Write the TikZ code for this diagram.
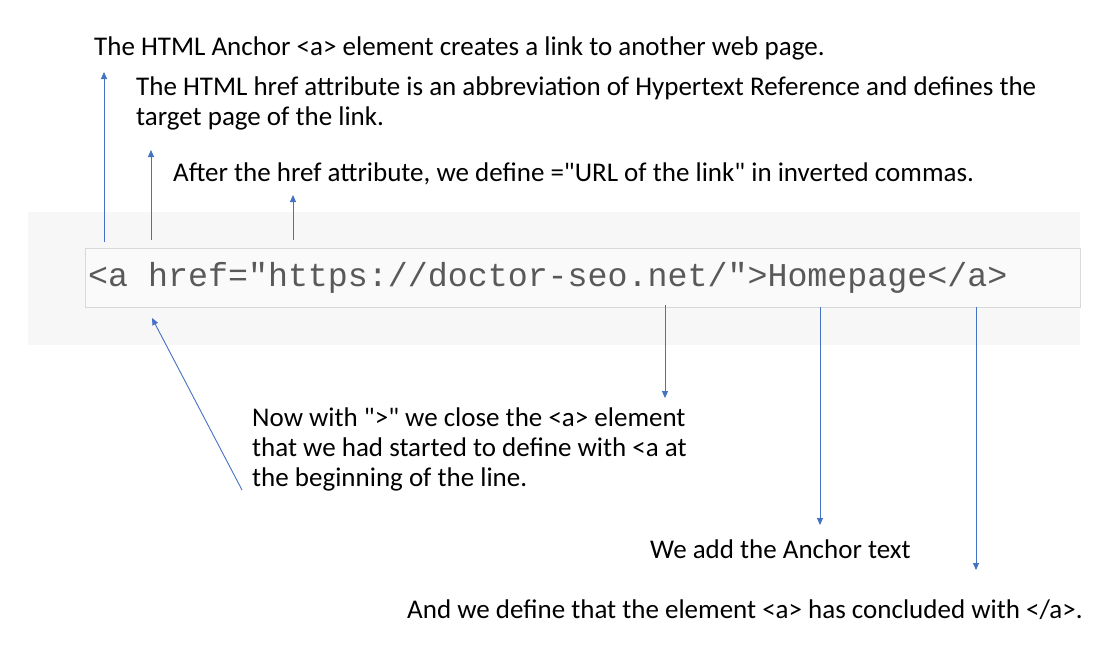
\documentclass[tikz,border=0pt]{standalone}
\usepackage{fontspec}
\setmainfont{Carlito}
\newfontfamily\codefont{Liberation Mono}
\usetikzlibrary{arrows.meta}
\definecolor{arr}{HTML}{4472C4}
\newcommand{\dq}{\XeTeXglyph\XeTeXcharglyph"22\relax}
\begin{document}
\begin{tikzpicture}[x=1pt,y=-1pt,
  lbl/.style={anchor=west,inner sep=0pt,font=\fontsize{27}{30}\selectfont,align=left},
  arrow/.style={draw=arr,line width=0.9pt,-{Triangle[length=7pt,width=6pt]}}]
\useasboundingbox (0,0) rectangle (1113,645);
\fill[white] (0,0) rectangle (1113,645);
\fill[black!3] (28,212) rectangle (1080,345);
\draw[black!15,fill=black!2] (85,248) rectangle (1080,307);
\node[anchor=west,inner sep=0pt,text=black!65,font=\codefont\fontsize{33.3}{36}\selectfont] (code) at (88,278) {<a href="https://doctor-seo.net/">Homepage</a>};
\node[lbl] (t1) at (94,48) {The HTML Anchor <a> element creates a link to another web page.};
\node[lbl,anchor=north west] (t2) at (136,77) {The HTML href attribute is an abbreviation of Hypertext Reference and defines the\\target page of the link.};
\node[lbl] (t3) at (173,174) {After the href attribute, we define =\dq URL of the link\dq{} in inverted commas.};
\node[lbl,anchor=north west] (t4) at (252,408) {Now with \dq>\dq{} we close the <a> element\\that we had started to define with <a at\\the beginning of the line.};
\node[lbl] (t5) at (650,549) {We add the Anchor text};
\node[lbl] (t6) at (407,610) {And we define that the element <a> has concluded with </a>.};
\coordinate (s1) at (104,242); \coordinate (e1) at (104,72);
\coordinate (s2) at (151,240); \coordinate (e2) at (151,150);
\coordinate (s3) at (293,240); \coordinate (e3) at (293,195);
\coordinate (s4) at (242,490); \coordinate (e4) at (152,318);
\coordinate (s5) at (665,305); \coordinate (e5) at (665,398);
\coordinate (s6) at (820,307); \coordinate (e6) at (820,525);
\coordinate (s7) at (976,307); \coordinate (e7) at (976,570);
\foreach \i in {1,...,7} \draw[arrow] (s\i) -- (e\i);
\end{tikzpicture}
\end{document}
